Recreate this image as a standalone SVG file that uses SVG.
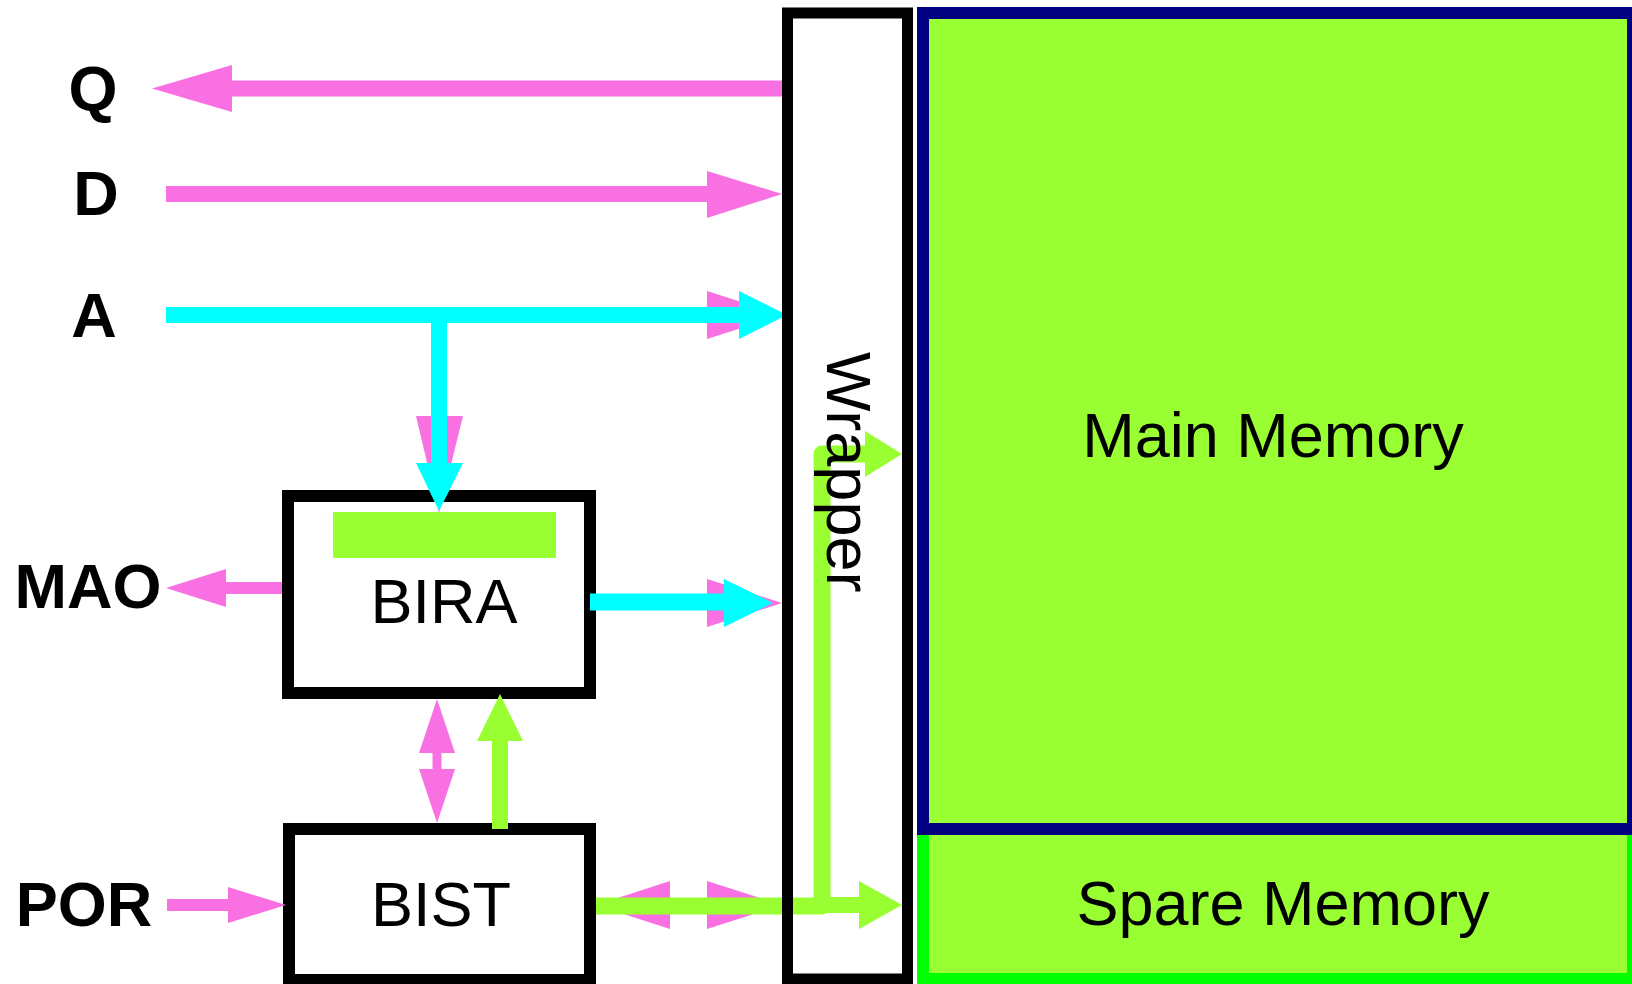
<svg xmlns="http://www.w3.org/2000/svg" width="1632" height="984" viewBox="0 0 1632 984">
<style>
.lbl{font-family:"Liberation Sans",Arial,sans-serif;font-weight:bold;font-size:63px;fill:#000}
.txt{font-family:"Liberation Sans",Arial,sans-serif;font-size:63px;fill:#000}
.pk{fill:#f870e1}
.pks{stroke:#f870e1;fill:none}
.cy{fill:#00ffff}
.cys{stroke:#00ffff;fill:none}
.gr{fill:#99ff33}
.grs{stroke:#99ff33;fill:none}
.box{fill:#fff;stroke:#000;stroke-width:12}
</style>
<rect width="1632" height="984" fill="#fff"/>
<g id="spare-memory">
<rect x="923" y="829" width="710" height="150" fill="#99ff33" stroke="#00ff00" stroke-width="12"/>
<text class="txt" x="1283" y="925" text-anchor="middle" font-size="64">Spare Memory</text>
</g>
<g id="main-memory">
<rect x="923" y="13" width="710" height="816" fill="#99ff33" stroke="#000080" stroke-width="12"/>
<text class="txt" x="1273" y="457" text-anchor="middle" font-size="64">Main Memory</text>
</g>
<g id="wrapper-bg">
<rect x="787.5" y="13" width="120" height="966" fill="#fff"/>
</g>
<g id="bira">
<rect class="box" x="288" y="496" width="302" height="197"/>
<rect class="gr" x="333" y="512" width="223" height="46"/>
<text class="txt" x="444" y="623" text-anchor="middle">BIRA</text>
</g>
<g id="bist">
<rect class="box" x="289" y="829" width="301" height="151"/>
<text class="txt" x="441" y="926" text-anchor="middle">BIST</text>
</g>
<g id="labels">
<text class="lbl" x="93" y="110" text-anchor="middle" font-size="64">Q</text>
<text class="lbl" x="96" y="215" text-anchor="middle" font-size="64">D</text>
<text class="lbl" x="94" y="337" text-anchor="middle" font-size="64">A</text>
<text class="lbl" x="88" y="608" text-anchor="middle" font-size="62">MAO</text>
<text class="lbl" x="84" y="926" text-anchor="middle" font-size="62">POR</text>
</g>
<g id="connectors">
<!-- pink -->
<line class="pks" x1="782" y1="88.5" x2="231" y2="88.5" stroke-width="16"/>
<polygon class="pk" points="232,65 232,112 152,88.5"/>
<line class="pks" x1="166" y1="194" x2="708" y2="194" stroke-width="16"/>
<polygon class="pk" points="707,171 707,218 782,194"/>
<line class="pks" x1="166" y1="315" x2="708" y2="315" stroke-width="16"/>
<polygon class="pk" points="707,291 707,339 782,315"/>
<polygon class="pk" points="416,416 463,416 439,513"/>
<line class="pks" x1="282" y1="588" x2="225" y2="588" stroke-width="12"/>
<polygon class="pk" points="226,569 226,607 166,588"/>
<polygon class="pk" points="707,579 707,627 782,603"/>
<line class="pks" x1="437" y1="752" x2="437" y2="770" stroke-width="9"/>
<polygon class="pk" points="419,753 455,753 437,699"/>
<polygon class="pk" points="419,769 455,769 437,823"/>
<line class="pks" x1="167" y1="905" x2="229" y2="905" stroke-width="12"/>
<polygon class="pk" points="228,887 228,923 286,905"/>
<polygon class="pk" points="670,881 670,929 596,905"/>
<polygon class="pk" points="707,881 707,929 782,905"/>
<!-- cyan -->
<line class="cys" x1="166" y1="315" x2="740" y2="315" stroke-width="16"/>
<polygon class="cy" points="739,291 739,339 787,315"/>
<line class="cys" x1="439" y1="307" x2="439" y2="464" stroke-width="16"/>
<polygon class="cy" points="416,463 463,463 439,511"/>
<line class="cys" x1="590" y1="602" x2="725" y2="602" stroke-width="17"/>
<polygon class="cy" points="724,579 724,627 773,603"/>
<!-- green -->
<line class="grs" x1="500" y1="829" x2="500" y2="740" stroke-width="16"/>
<polygon class="gr" points="477,741 523,741 500,694"/>
<path class="grs" d="M596,906 H822 V454 H866" stroke-width="17" stroke-linejoin="round"/>
<polygon class="gr" points="865,431 865,477 902,454"/>
<line class="grs" x1="822" y1="905" x2="861" y2="905" stroke-width="16"/>
<polygon class="gr" points="859,881 859,929 902,905"/>
</g>
<g id="wrapper">
<rect x="787.5" y="13" width="120" height="966" fill="none" stroke="#000" stroke-width="11"/>
<text class="txt" transform="translate(827,352) rotate(90)" x="0" y="0">Wrapper</text>
</g>
</svg>
